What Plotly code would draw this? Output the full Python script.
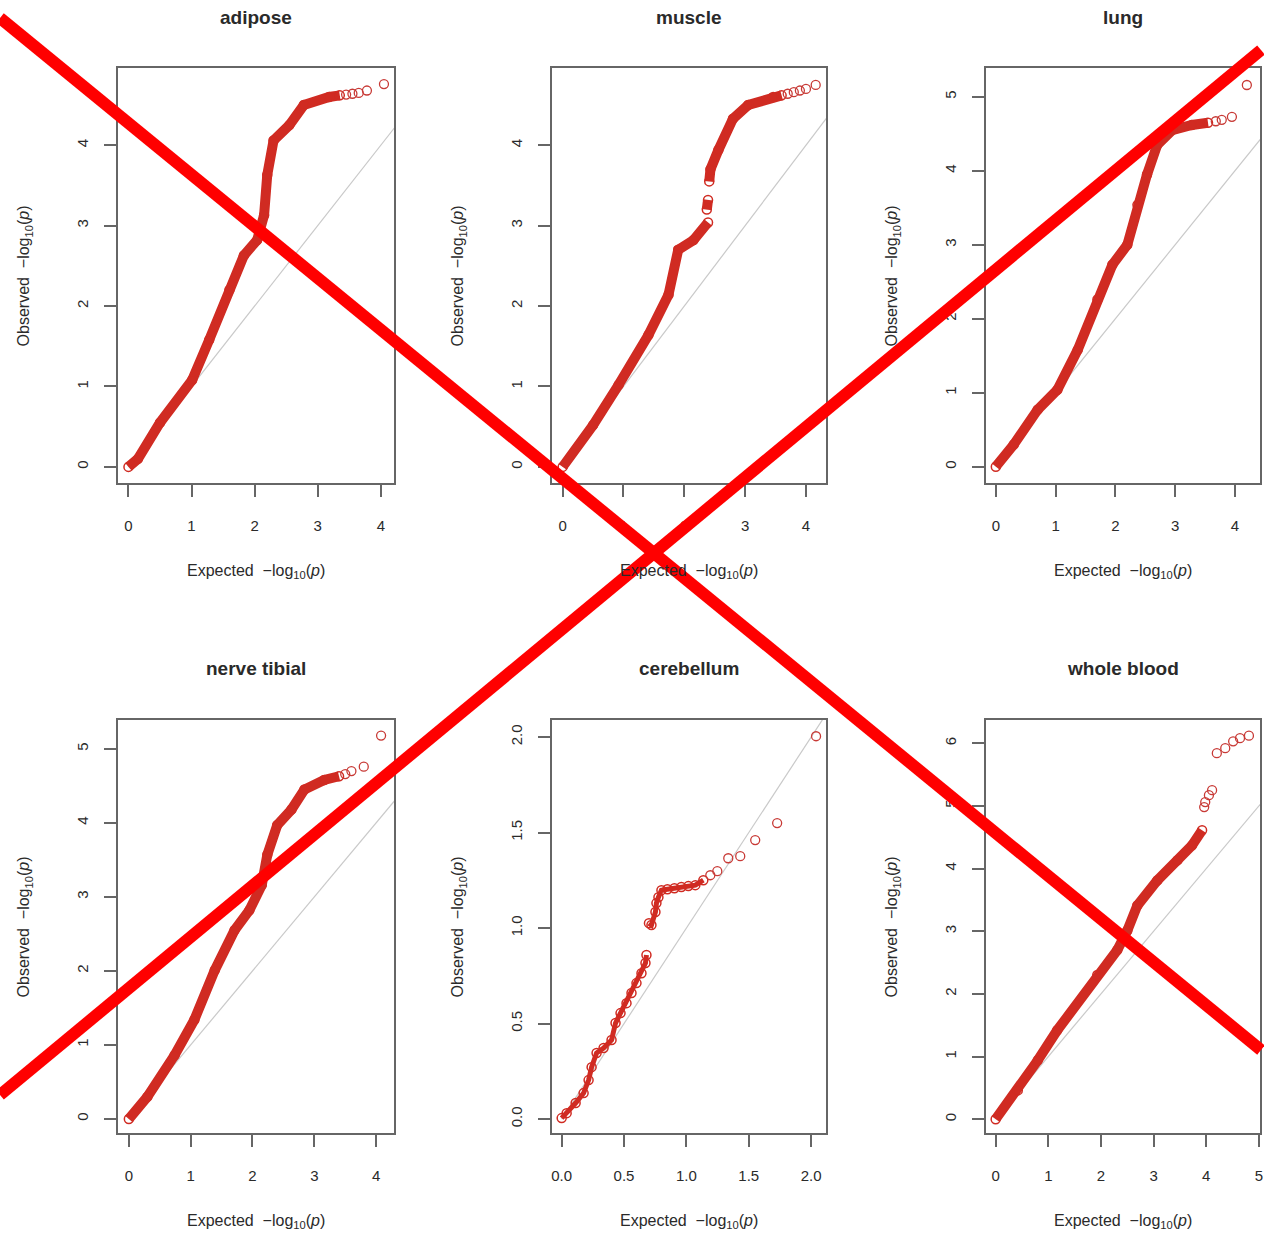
import plotly.graph_objects as go

W, H = 1264, 1235

# ---------------- data ----------------
panel_names = ["adipose", "muscle", "lung", "nerve tibial", "cerebellum", "whole blood"]

adipose_x = [0, 0.15, 0.5, 1.01, 1.28, 1.6, 1.83, 2.04, 2.15, 2.2, 2.3, 2.55, 2.78, 3.18, 3.35]
adipose_y = [0, 0.1, 0.55, 1.08, 1.58, 2.2, 2.63, 2.82, 3.13, 3.63, 4.06, 4.25, 4.5, 4.6, 4.62]
adipose_tail_x = [3.45, 3.55, 3.65, 3.78, 4.05]
adipose_tail_y = [4.63, 4.64, 4.65, 4.68, 4.76]

muscle_x = [0, 0.5, 0.92, 1.41, 1.74, 1.9, 2.15, 2.39, None, 2.37, 2.39, None,
            2.41, 2.43, 2.56, 2.8, 3.05, 3.46, 3.6]
muscle_y = [0, 0.52, 1.02, 1.64, 2.14, 2.7, 2.82, 3.04, None, 3.2, 3.32, None,
            3.55, 3.7, 3.94, 4.33, 4.5, 4.6, 4.62]
muscle_tail_x = [3.7, 3.8, 3.9, 4.0, 4.16]
muscle_tail_y = [4.64, 4.66, 4.68, 4.7, 4.75]

lung_x = [0, 0.3, 0.7, 1.03, 1.37, 1.7, 1.95, 2.2, 2.37, 2.53, 2.7, 2.95, 3.28, 3.55]
lung_y = [0, 0.3, 0.77, 1.04, 1.58, 2.26, 2.73, 3.0, 3.54, 3.95, 4.35, 4.55, 4.62, 4.65]
lung_tail_x = [3.68, 3.78, 3.95, 4.2]
lung_tail_y = [4.67, 4.69, 4.73, 5.16]

nerve_x = [0, 0.3, 0.74, 1.06, 1.39, 1.71, 1.95, 2.15, 2.24, 2.4, 2.63, 2.84, 3.16, 3.4]
nerve_y = [0, 0.3, 0.86, 1.34, 2.01, 2.55, 2.82, 3.16, 3.57, 3.97, 4.18, 4.45, 4.58, 4.63]
nerve_tail_x = [3.5, 3.6, 3.8, 4.08]
nerve_tail_y = [4.66, 4.7, 4.76, 5.18]

cereb_x = [0.0, 0.04, 0.112, 0.176, 0.216, 0.24, 0.28, 0.336, 0.40, 0.432, 0.472, 0.52,
           0.56, 0.60, 0.64, 0.672, 0.68, None, 0.70, 0.72, 0.752, 0.76, 0.776, 0.80,
           0.848, 0.904, 0.96, 1.016, 1.072, 1.136]
cereb_y = [0.005, 0.031, 0.084, 0.136, 0.204, 0.272, 0.346, 0.372, 0.414, 0.503, 0.555, 0.607,
           0.66, 0.712, 0.764, 0.817, 0.859, None, 1.026, 1.016, 1.084, 1.131, 1.162, 1.199,
           1.204, 1.209, 1.215, 1.22, 1.225, 1.251]
cereb_tail_x = [1.192, 1.248, 1.336, 1.432, 1.552, 1.728, 2.04]
cereb_tail_y = [1.277, 1.298, 1.366, 1.377, 1.461, 1.55, 2.005]

blood_x = [0, 0.42, 0.8, 1.17, 1.93, 2.31, 2.5, 2.69, 3.07, 3.45, 3.73, 3.92]
blood_y = [0, 0.46, 0.94, 1.42, 2.3, 2.7, 3.01, 3.41, 3.81, 4.13, 4.37, 4.61]
blood_tail_x = [3.96, 3.98, 4.05, 4.11, 4.2, 4.36, 4.51, 4.64, 4.81]
blood_tail_y = [4.98, 5.06, 5.17, 5.25, 5.84, 5.92, 6.03, 6.08, 6.12]

ticks_int4 = [0, 1, 2, 3, 4]
ticks_int5 = [0, 1, 2, 3, 4, 5]
ticks_int6 = [0, 1, 2, 3, 4, 5, 6]
ticks_half = [0.0, 0.5, 1.0, 1.5, 2.0]
ticks_half_text = ["0.0", "0.5", "1.0", "1.5", "2.0"]

# ---------------- layout (pixel geometry) ----------------
col_px = [(118, 395), (553, 828), (988, 1263)]
row_px = [(68, 483), (720, 1133)]
title_y_px = [18, 668]

panels = [
    dict(cx=adipose_x, cy=adipose_y, tx=adipose_tail_x, ty=adipose_tail_y,
         xr=[-0.17, 4.21], yr=[-0.2, 4.96], xt=ticks_int4, yt=ticks_int4, lw=10),
    dict(cx=muscle_x, cy=muscle_y, tx=muscle_tail_x, ty=muscle_tail_y,
         xr=[-0.18, 4.33], yr=[-0.2, 4.96], xt=ticks_int4, yt=ticks_int4, lw=10),
    dict(cx=lung_x, cy=lung_y, tx=lung_tail_x, ty=lung_tail_y,
         xr=[-0.17, 4.42], yr=[-0.22, 5.39], xt=ticks_int4, yt=ticks_int5, lw=10),
    dict(cx=nerve_x, cy=nerve_y, tx=nerve_tail_x, ty=nerve_tail_y,
         xr=[-0.18, 4.29], yr=[-0.19, 5.39], xt=ticks_int4, yt=ticks_int5, lw=10),
    dict(cx=cereb_x, cy=cereb_y, tx=cereb_tail_x, ty=cereb_tail_y,
         xr=[-0.08, 2.12], yr=[-0.073, 2.09], xt=ticks_half, yt=ticks_half,
         xtt=ticks_half_text, ytt=ticks_half_text, lw=5),
    dict(cx=blood_x, cy=blood_y, tx=blood_tail_x, ty=blood_tail_y,
         xr=[-0.19, 5.02], yr=[-0.22, 6.37], xt=ticks_int5, yt=ticks_int6, lw=10),
]

RED = "#d02b22"
CIRC = "#c83a36"
FONT = "Liberation Sans, Arial, sans-serif"
TXT = "#2a2a2a"

fig = go.Figure()
annotations = []

for i, p in enumerate(panels):
    r, c = divmod(i, 3)
    k = "" if i == 0 else str(i + 1)
    xa, ya = "x" + k, "y" + k
    x0, x1 = col_px[c]
    y0, y1 = row_px[r]
    diag_max = max(p["xr"][1], p["yr"][1])
    # identity line
    fig.add_trace(go.Scatter(x=[0, diag_max], y=[0, diag_max], mode="lines",
                             line=dict(color="#c9c9c9", width=1.2),
                             xaxis=xa, yaxis=ya, showlegend=False, hoverinfo="skip"))
    # dense band of points
    fig.add_trace(go.Scatter(x=p["cx"], y=p["cy"], mode="lines+markers",
                             line=dict(color=RED, width=p["lw"]),
                             marker=dict(symbol="circle-open", size=9, color=RED,
                                         line=dict(width=1.5, color=RED)),
                             xaxis=xa, yaxis=ya, showlegend=False))
    # sparse extreme points
    fig.add_trace(go.Scatter(x=p["tx"], y=p["ty"], mode="markers",
                             marker=dict(symbol="circle-open", size=9, color=CIRC,
                                         line=dict(width=1.3, color=CIRC)),
                             xaxis=xa, yaxis=ya, showlegend=False))
    axcommon = dict(showgrid=False, zeroline=False, showline=True, mirror=True,
                    linecolor="#666666", linewidth=1.5, ticks="outside", ticklen=12,
                    tickwidth=1.5, tickcolor="#666666", ticklabeloverflow="allow",
                    tickfont=dict(family=FONT, size=15, color=TXT))
    xax = dict(axcommon, domain=[x0 / W, x1 / W], range=p["xr"], tickvals=p["xt"],
               anchor=ya, ticklabelstandoff=16)
    yax = dict(axcommon, domain=[1 - y1 / H, 1 - y0 / H], range=p["yr"], tickvals=p["yt"],
               anchor=xa, tickangle=-90, ticklabelstandoff=10)
    if "xtt" in p:
        xax["ticktext"] = p["xtt"]
        yax["ticktext"] = p["ytt"]
    fig.layout["xaxis" + k] = xax
    fig.layout["yaxis" + k] = yax

    cxp = (x0 + x1) / 2
    cyp = (y0 + y1) / 2
    common_ann = dict(xref="paper", yref="paper", showarrow=False,
                      xanchor="center", yanchor="middle")
    annotations.append(dict(common_ann, text="<b>" + panel_names[i] + "</b>",
                            x=cxp / W, y=1 - title_y_px[r] / H,
                            font=dict(family=FONT, size=19, color=TXT)))
    annotations.append(dict(common_ann, text="Expected  \u2212log<sub>10</sub>(<i>p</i>)",
                            x=cxp / W, y=1 - (y1 + 88) / H,
                            font=dict(family=FONT, size=16, color=TXT)))
    annotations.append(dict(common_ann, text="Observed  \u2212log<sub>10</sub>(<i>p</i>)",
                            x=(x0 - 93) / W, y=1 - cyp / H, textangle=-90,
                            font=dict(family=FONT, size=16, color=TXT)))

# red cross drawn over the figure
shapes = [
    dict(type="line", xref="paper", yref="paper", x0=0, y0=1 - 18 / H, x1=1, y1=1 - 1050 / H,
         line=dict(color="#ff0000", width=12), layer="above"),
    dict(type="line", xref="paper", yref="paper", x0=0, y0=1 - 1095 / H, x1=1, y1=1 - 50 / H,
         line=dict(color="#ff0000", width=12), layer="above"),
]

fig.update_layout(width=W, height=H, margin=dict(l=0, r=0, t=0, b=0),
                  paper_bgcolor="white", plot_bgcolor="white",
                  annotations=annotations, shapes=shapes,
                  font=dict(family=FONT, color=TXT))

fig.write_html("out.html", config={"displayModeBar": False},
               post_script="document.body.style.margin='0';document.body.style.overflow='hidden';")
